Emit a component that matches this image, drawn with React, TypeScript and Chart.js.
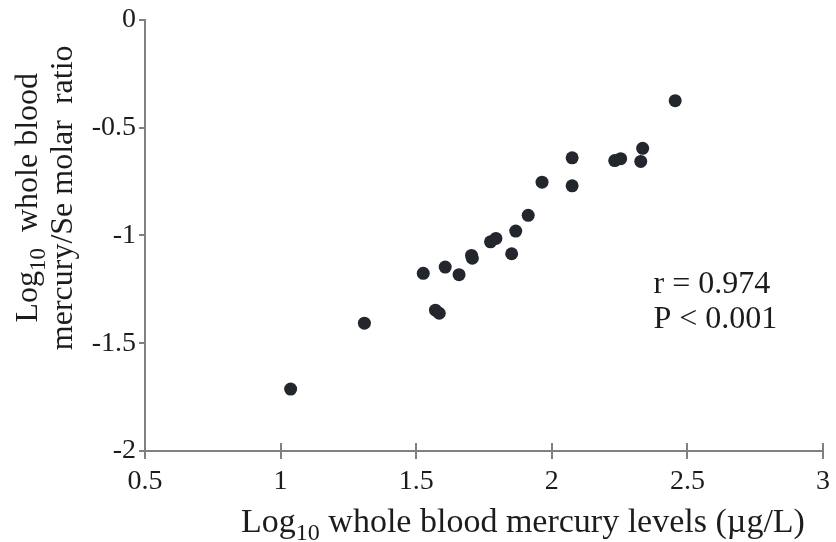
import React, { useEffect, useRef } from 'react';
import { Chart, registerables } from 'chart.js';

Chart.register(...registerables);

// ---- data ----
const xValues = [1.037, 1.309, 1.526, 1.607, 1.658, 1.571, 1.585, 1.704, 1.707, 1.774, 1.794, 1.867, 1.852, 1.913, 1.964, 2.075, 2.075, 2.232, 2.254, 2.335, 2.328, 2.455];
const yValues = [-1.713, -1.407, -1.176, -1.147, -1.182, -1.347, -1.361, -1.093, -1.106, -1.030, -1.014, -0.980, -1.085, -0.907, -0.753, -0.640, -0.770, -0.653, -0.644, -0.596, -0.657, -0.375];

const xTickValues = [0.5, 1, 1.5, 2, 2.5, 3];
const xTickLabels = ['0.5', '1', '1.5', '2', '2.5', '3'];
const yTickValues = [-2, -1.5, -1, -0.5, 0];
const yTickLabels = ['-2', '-1.5', '-1', '-0.5', '0'];

const xTitleParts: [string, boolean][] = [['Log', false], ['10', true], [' whole blood mercury levels (\u00B5g/L)', false]];
const yTitleLine1: [string, boolean][] = [['Log', false], ['10', true], ['  whole blood', false]];
const yTitleLine2: [string, boolean][] = [['mercury/Se molar  ratio', false]];
const statLines = ['r = 0.974', 'P < 0.001'];

const FONT = '"Liberation Serif", "Times New Roman", serif';
const TEXT = '#1c1c1c';
const AXIS = '#808080';

function drawParts(ctx: CanvasRenderingContext2D, parts: [string, boolean][], size: number, x: number, y: number) {
  const subSize = Math.round(size * 0.72);
  let total = 0;
  const widths = parts.map(([t, sub]) => {
    ctx.font = `${sub ? subSize : size}px ${FONT}`;
    const w = ctx.measureText(t).width;
    total += w;
    return w;
  });
  let cx = x - total / 2;
  ctx.textAlign = 'left';
  ctx.textBaseline = 'alphabetic';
  parts.forEach(([t, sub], i) => {
    ctx.font = `${sub ? subSize : size}px ${FONT}`;
    ctx.fillText(t, cx, sub ? y + size * 0.24 : y);
    cx += widths[i];
  });
}

const decorPlugin = {
  id: 'decor',
  beforeDatasetsDraw(chart: any) {
    const { ctx, chartArea, scales } = chart;
    ctx.save();
    ctx.strokeStyle = AXIS;
    ctx.lineWidth = 2;
    // inward half of the x ticks (they cross the axis)
    xTickValues.forEach((v) => {
      const px = Math.round(scales.x.getPixelForValue(v));
      ctx.beginPath();
      ctx.moveTo(px, chartArea.bottom - 8);
      ctx.lineTo(px, chartArea.bottom);
      ctx.stroke();
    });
    ctx.restore();
  },
  afterDraw(chart: any) {
    const { ctx, chartArea, scales } = chart;
    ctx.save();
    ctx.fillStyle = TEXT;
    // x title
    drawParts(ctx, xTitleParts, 34, chartArea.left + 378, chartArea.bottom + 81);
    // y title (two rotated lines)
    const cy = chartArea.top + 178;
    [[yTitleLine1, chartArea.left - 108], [yTitleLine2, chartArea.left - 73]].forEach(([parts, bx]: any) => {
      ctx.save();
      ctx.translate(bx, cy);
      ctx.rotate(-Math.PI / 2);
      drawParts(ctx, parts, 32, 0, 0);
      ctx.restore();
    });
    // statistics
    ctx.font = `32px ${FONT}`;
    ctx.textAlign = 'left';
    ctx.textBaseline = 'alphabetic';
    const sx = scales.x.getPixelForValue(2.375);
    const sy = [-1.268, -1.43];
    statLines.forEach((t, i) => {
      ctx.fillText(t, sx, scales.y.getPixelForValue(sy[i]));
    });
    ctx.restore();
  },
};

export default function App() {
  const ref = useRef<HTMLCanvasElement | null>(null);
  useEffect(() => {
    if (!ref.current) return;
    const chart = new Chart(ref.current, {
      type: 'scatter',
      data: {
        datasets: [
          {
            data: xValues.map((x, i) => ({ x, y: yValues[i] })),
            backgroundColor: '#23262d',
            borderWidth: 0,
            pointRadius: 6.5,
          },
        ],
      },
      options: {
        responsive: false,
        animation: false,
        layout: { padding: { left: 0, right: 11, top: 19, bottom: 0 } },
        plugins: { legend: { display: false }, tooltip: { enabled: false } },
        scales: {
          x: {
            type: 'linear',
            min: 0.5,
            max: 3,
            afterFit: (s: any) => { s.height = 91; },
            afterBuildTicks: (s: any) => { s.ticks = xTickValues.map((v) => ({ value: v })); },
            ticks: {
              callback: (v: any) => xTickLabels[xTickValues.indexOf(Number(v))] ?? '',
              font: { family: FONT, size: 28 },
              color: TEXT,
              padding: 6,
              maxRotation: 0,
            },
            grid: { drawOnChartArea: false, drawTicks: true, tickLength: 8, color: AXIS, lineWidth: 2 },
            border: { display: true, color: AXIS, width: 2 },
          },
          y: {
            type: 'linear',
            min: -2,
            max: 0,
            afterFit: (s: any) => { s.width = 145; },
            afterBuildTicks: (s: any) => { s.ticks = yTickValues.map((v) => ({ value: v })); },
            ticks: {
              callback: (v: any) => yTickLabels[yTickValues.indexOf(Number(v))] ?? '',
              font: { family: FONT, size: 28 },
              color: TEXT,
              padding: 3,
            },
            grid: { drawOnChartArea: false, drawTicks: true, tickLength: 6, color: AXIS, lineWidth: 2 },
            border: { display: true, color: AXIS, width: 2 },
          },
        },
      },
      plugins: [decorPlugin],
    });
    return () => chart.destroy();
  }, []);
  return (
    <div style={{ position: 'fixed', left: 0, top: 0, width: 836, height: 542, background: '#fff' }}>
      <canvas ref={ref} width={836} height={542} style={{ display: 'block' }} />
    </div>
  );
}
